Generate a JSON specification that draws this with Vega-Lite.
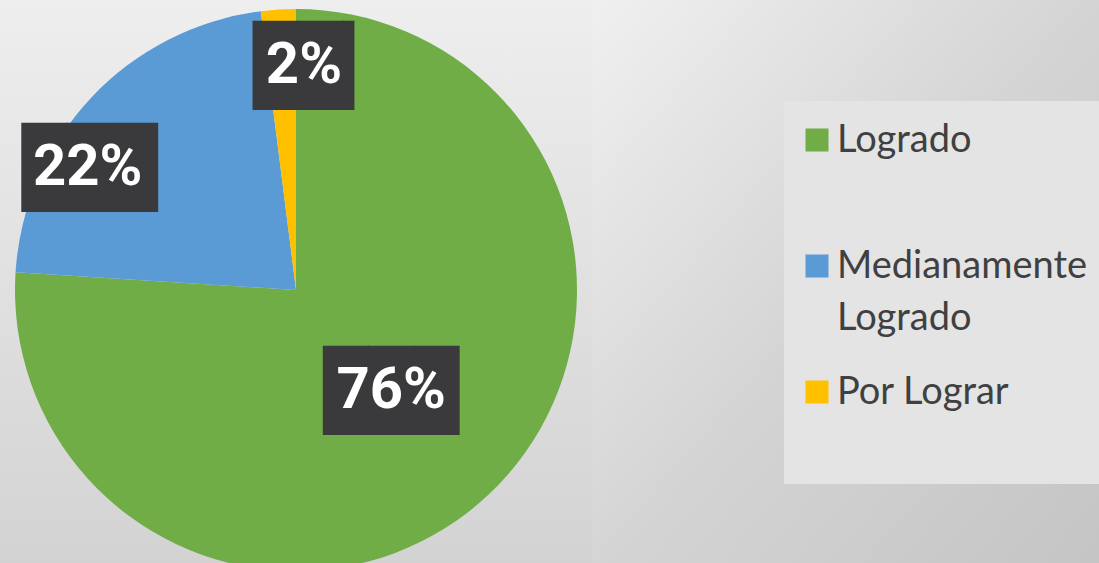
{
  "$schema": "https://vega.github.io/schema/vega-lite/v6.json",
  "padding": 0,
  "spacing": 0,
  "background": "#DADADA",
  "data": {"values": [
    {"cat": "Logrado", "value": 76, "label": "76%"},
    {"cat": "Medianamente Logrado", "value": 22, "label": "22%"},
    {"cat": "Por Lograr", "value": 2, "label": "2%"}
  ]},
  "hconcat": [
    {
      "width": 592,
      "height": 580,
      "view": {"stroke": null, "fill": {"gradient": "linear", "x1": 0, "y1": 0, "x2": 0, "y2": 1, "stops": [{"offset": 0, "color": "#EEEEEE"}, {"offset": 1, "color": "#D2D2D2"}]}},
      "layer": [
        {
          "mark": {"type": "arc", "outerRadius": 281},
          "encoding": {
            "theta": {"field": "value", "type": "quantitative", "stack": true},
            "order": {"field": "cat", "type": "nominal", "sort": "ascending"},
            "color": {
              "field": "cat", "type": "nominal",
              "scale": {"domain": ["Logrado", "Medianamente Logrado", "Por Lograr"], "range": ["#70AD47", "#5B9BD5", "#FFC000"]},
              "legend": {
                "orient": "none", "legendX": 784, "legendY": 101, "title": null, "direction": "vertical",
                "symbolType": "square", "symbolSize": 529, "symbolStrokeWidth": 0, "symbolOffset": -6,
                "labelFont": "Lato", "labelFontSize": 38, "labelColor": "#404040", "labelLimit": 400,
                "labelOffset": 1, "labelBaseline": "top",
                "fillColor": "#E4E4E4", "padding": 20, "rowPadding": 35, "gridAlign": "all",
                "labelExpr": "datum.label === 'Medianamente Logrado' ? ['Medianamente', 'Logrado'] : datum.label === 'Por Lograr' ? ['Por Lograr', ''] : datum.label",
                "encode": {"labels": {"update": {"dy": {"value": -18}, "lineHeight": {"value": 52}}}}
              }
            }
          }
        },
        {
          "mark": {"type": "text", "radius": 139, "dy": 2, "font": "DejaVu Sans Mono", "fontSize": 75, "color": "#3A3A3D", "align": "center", "baseline": "middle"},
          "encoding": {
            "theta": {"field": "value", "type": "quantitative", "stack": true},
            "order": {"field": "cat", "type": "nominal", "sort": "ascending"},
            "text": {"condition": {"test": "datum.cat === 'Logrado'", "value": "███"}, "value": ""}
          }
        },
        {
          "mark": {"type": "text", "radius": 235, "dx": -35, "dy": 41, "font": "DejaVu Sans Mono", "fontSize": 75, "color": "#3A3A3D", "align": "center", "baseline": "middle"},
          "encoding": {
            "theta": {"field": "value", "type": "quantitative", "stack": true},
            "order": {"field": "cat", "type": "nominal", "sort": "ascending"},
            "text": {"condition": {"test": "datum.cat === 'Medianamente Logrado'", "value": "███"}, "value": ""}
          }
        },
        {
          "mark": {"type": "text", "radius": 224, "dx": 39, "dy": 2, "font": "DejaVu Sans Mono", "fontSize": 75, "color": "#3A3A3D", "align": "center", "baseline": "middle"},
          "encoding": {
            "theta": {"field": "value", "type": "quantitative", "stack": true},
            "order": {"field": "cat", "type": "nominal", "sort": "ascending"},
            "text": {"condition": {"test": "datum.cat === 'Por Lograr'", "value": "██▎"}, "value": ""}
          }
        },
        {
          "mark": {"type": "text", "radius": 139, "font": "Roboto", "fontWeight": "bold", "fontSize": 58, "color": "#FFFFFF", "align": "center", "baseline": "middle"},
          "encoding": {
            "theta": {"field": "value", "type": "quantitative", "stack": true},
            "order": {"field": "cat", "type": "nominal", "sort": "ascending"},
            "text": {"condition": {"test": "datum.cat === 'Logrado'", "field": "label", "type": "nominal"}, "value": ""}
          }
        },
        {
          "mark": {"type": "text", "radius": 235, "dx": -37, "dy": 39, "font": "Roboto", "fontWeight": "bold", "fontSize": 58, "color": "#FFFFFF", "align": "center", "baseline": "middle"},
          "encoding": {
            "theta": {"field": "value", "type": "quantitative", "stack": true},
            "order": {"field": "cat", "type": "nominal", "sort": "ascending"},
            "text": {"condition": {"test": "datum.cat === 'Medianamente Logrado'", "field": "label", "type": "nominal"}, "value": ""}
          }
        },
        {
          "mark": {"type": "text", "radius": 224, "dx": 22, "dy": 0, "font": "Roboto", "fontWeight": "bold", "fontSize": 58, "color": "#FFFFFF", "align": "center", "baseline": "middle"},
          "encoding": {
            "theta": {"field": "value", "type": "quantitative", "stack": true},
            "order": {"field": "cat", "type": "nominal", "sort": "ascending"},
            "text": {"condition": {"test": "datum.cat === 'Por Lograr'", "field": "label", "type": "nominal"}, "value": ""}
          }
        }
      ]
    },
    {
      "width": 507,
      "height": 580,
      "view": {"stroke": null, "fill": {"gradient": "linear", "x1": 0, "y1": 0, "x2": 1, "y2": 1, "stops": [{"offset": 0, "color": "#F0F0F0"}, {"offset": 0.5, "color": "#D4D4D4"}, {"offset": 1, "color": "#C4C4C4"}]}},
      "mark": {"type": "text", "opacity": 0},
      "encoding": {}
    }
  ],
  "config": {"view": {"stroke": null}, "concat": {"spacing": 0}}
}
